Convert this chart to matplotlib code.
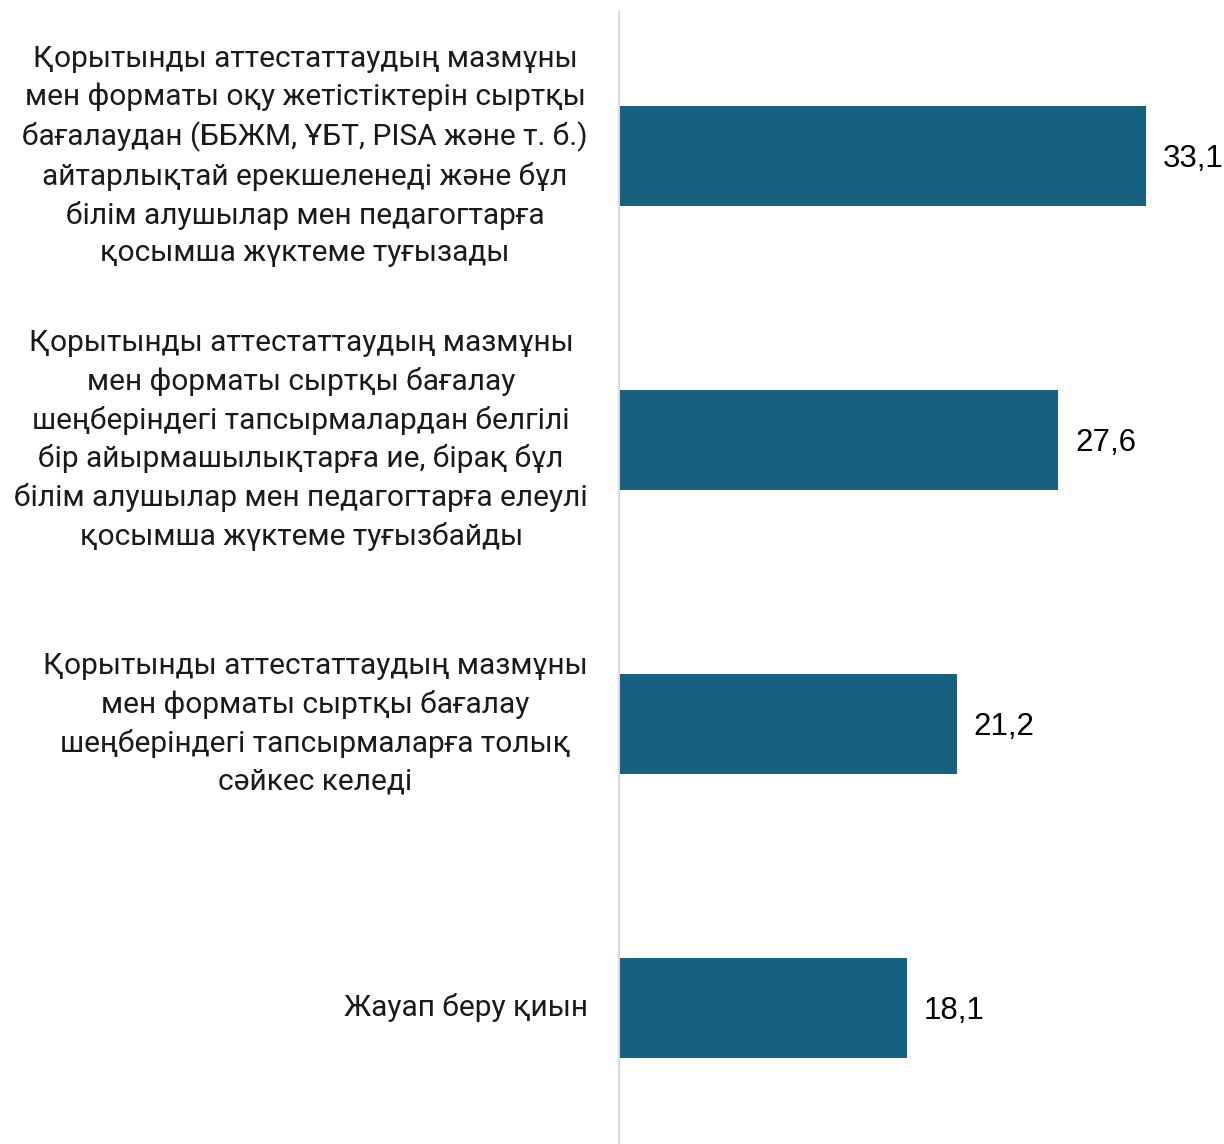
import matplotlib.pyplot as plt
import matplotlib.transforms as mtransforms

# Data
categories = [
    "Қорытынды аттестаттаудың мазмұны\nмен форматы оқу жетістіктерін сыртқы\n"
    "бағалаудан (ББЖМ, ҰБТ, PISA және т. б.)\nайтарлықтай ерекшеленеді және бұл\n"
    "білім алушылар мен педагогтарға\nқосымша жүктеме туғызады",
    "Қорытынды аттестаттаудың мазмұны\nмен форматы сыртқы бағалау\n"
    "шеңберіндегі тапсырмалардан белгілі\nбір айырмашылықтарға ие, бірақ бұл\n"
    "білім алушылар мен педагогтарға елеулі\nқосымша жүктеме туғызбайды",
    "Қорытынды аттестаттаудың мазмұны\nмен форматы сыртқы бағалау\n"
    "шеңберіндегі тапсырмаларға толық\nсәйкес келеді",
    "Жауап беру қиын",
]
values = [33.1, 27.6, 21.2, 18.1]
value_labels = ["33,1", "27,6", "21,2", "18,1"]

bar_color = "#17607f"

fig = plt.figure(figsize=(12.24, 11.44), dpi=100)
ax = fig.add_axes([619 / 1224, 0, 1 - 619 / 1224, 1 - 12 / 1144])

positions = list(range(len(categories)))
ax.barh(positions, values, height=0.352, color=bar_color)

ax.set_xlim(0, 38)
ax.set_ylim(3.479, -0.507)

# Value labels to the right of each bar
for pos, val, lab in zip(positions, values, value_labels):
    ax.annotate(lab, (val, pos), xytext=(12, -2), textcoords="offset points",
                ha="left", va="center", fontsize=22.5, family="Liberation Sans",
                color="#000000")

# Category labels, drawn as text left of the axis line
label_tr = ax.get_yaxis_transform() + mtransforms.ScaledTranslation(
    -0.31, 0.0, fig.dpi_scale_trans)
for pos, cat in zip(positions, categories):
    ax.text(0, pos, cat, transform=label_tr, ha="right", va="center",
            multialignment="center", fontsize=21.5, family="Roboto",
            color="#1a1a1a", linespacing=1.43)

ax.set_yticks([])
ax.set_xticks([])

for side in ["top", "right", "bottom"]:
    ax.spines[side].set_visible(False)
ax.spines["left"].set_color("#d9d9d9")
ax.spines["left"].set_linewidth(1.5)

fig.savefig("out.png", dpi=100)
